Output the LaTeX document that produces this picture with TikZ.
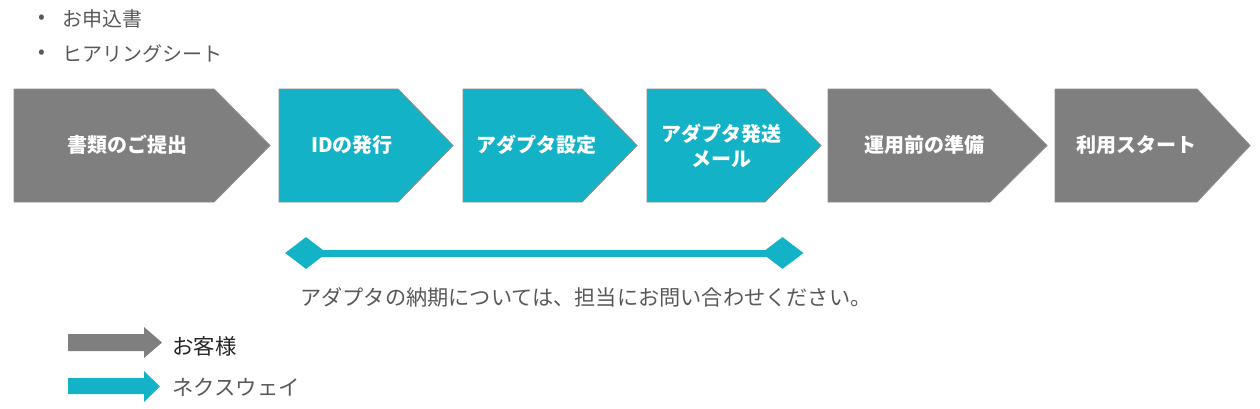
\documentclass[tikz,border=0pt]{standalone}
\usepackage{fontspec}
\setmainfont{Noto Sans CJK JP}
\newfontfamily\jpfont{Noto Sans CJK JP}
\usetikzlibrary{shapes.geometric}
\definecolor{flowgray}{HTML}{7F7F7F}
\definecolor{flowteal}{HTML}{14B2C6}
\definecolor{edgegray}{HTML}{8C8C8C}
\definecolor{txtgray}{HTML}{595959}
\definecolor{txtdark}{HTML}{262626}
\tikzset{
  stepshape/.style={draw=edgegray, line width=0.9pt, line join=miter},
  steptext/.style={text=white, font=\jpfont\bfseries\fontsize{20}{24}\selectfont, inner sep=0pt, align=center},
  plaintext/.style={inner sep=0pt, anchor=west, font=\jpfont\fontsize{20}{24}\selectfont},
  diamondend/.style={diamond, fill=flowteal, draw=none, inner sep=0pt, minimum width=42pt, minimum height=32pt}
}
\begin{document}
\begin{tikzpicture}[x=1pt,y=-1pt]
\useasboundingbox (0,0) rectangle (1260,408);
% bullets
\node[plaintext, text=txtgray] (b1) at (38,19) {•};
\node[plaintext, text=txtgray] (t1) at (62,19) {お申込書};
\node[plaintext, text=txtgray] (b2) at (38,54) {•};
\node[plaintext, text=txtgray] (t2) at (62,54) {ヒアリングシート};
% steps
\newcommand{\stepbox}[4]{%
  \fill[#4] (#1,89) -- (#2,89) -- (#3,145.5) -- (#2,202) -- (#1,202) -- cycle;
  \draw[stepshape] (#1,89) -- (#2,89) -- (#3,145.5) -- (#2,202) -- (#1,202) -- cycle;}
\stepbox{14}{214}{270}{flowgray}
\stepbox{279}{398}{453}{flowteal}
\stepbox{463}{582}{637}{flowteal}
\stepbox{647}{765}{821}{flowteal}
\stepbox{828}{990}{1047}{flowgray}
\stepbox{1055}{1197}{1250}{flowgray}
\node[steptext] (s1) at (127,145) {書類のご提出};
\node[steptext] (s2) at (352,145) {IDの発行};
\node[steptext] (s3) at (536,145) {アダプタ設定};
\node[steptext, font=\jpfont\bfseries\fontsize{20}{25}\selectfont] (s4) at (721,146) {アダプタ発送\\メール};
\node[steptext] (s5) at (924,145) {運用前の準備};
\node[steptext] (s6) at (1136,145) {利用スタート};
% span line
\node[diamondend] (dl) at (306,253) {};
\node[diamondend] (dr) at (782.5,253) {};
\draw[flowteal, line width=7pt] (dl.center) -- (dr.center);
\node[plaintext, text=txtgray, font=\jpfont\fontsize{21.2}{24}\selectfont] (note) at (300,297) {アダプタの納期については、担当にお問い合わせください。};
% legend
\fill[flowgray] (68,334) -- (144,334) -- (144,327) -- (162,342.5) -- (144,358) -- (144,351) -- (68,351) -- cycle;
\fill[flowteal] (68,378) -- (144,378) -- (144,371) -- (160,386.5) -- (144,402) -- (144,394) -- (68,394) -- cycle;
\node[plaintext, text=txtdark, font=\jpfont\fontsize{21.4}{24}\selectfont] (l1) at (172,346) {お客様};
\node[plaintext, text=txtgray, font=\jpfont\fontsize{21.4}{24}\selectfont] (l2) at (172,387) {ネクスウェイ};
\end{tikzpicture}
\end{document}
